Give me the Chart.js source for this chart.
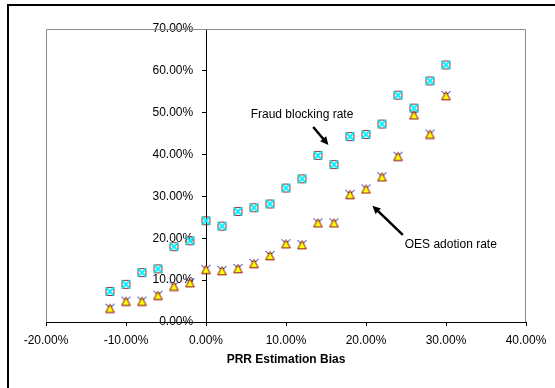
<!DOCTYPE html>
<html>
<head>
<meta charset="utf-8">
<script src="https://cdn.jsdelivr.net/npm/chart.js@4"></script>
<style>
    html, body { margin: 0; padding: 0; background: #fff; }
    #wrap { position: relative; width: 555px; height: 388px; overflow: hidden; }
    #frame { position: absolute; left: 7px; top: 4px; width: 600px; height: 450px;
             border-left: 2px solid #000; border-top: 2px solid #000; }
    canvas { position: absolute; left: 0; top: 0; }
</style>
</head>
<body>
<div id="wrap">
    <div id="frame"></div>
    <canvas id="chart" width="555" height="388"></canvas>
</div>
<script>
// PRR estimation bias (x, %) and the two rates (y, %)
const biasValues = [-12, -10, -8, -6, -4, -2, 0, 2, 4, 6, 8, 10, 12, 14, 16, 18, 20, 22, 24, 26, 28, 30];
const fraudBlockingRate = [7.3, 9.0, 11.8, 12.7, 18.0, 19.4, 24.2, 22.9, 26.4, 27.3, 28.2, 32.0,
    34.2, 39.8, 37.6, 44.3, 44.8, 47.3, 54.2, 51.1, 57.6, 61.4];
const oesAdoptionRate = [3.3, 5.0, 5.0, 6.4, 8.6, 9.4, 12.6, 12.3, 12.8, 14.0, 15.9, 18.7,
    18.5, 23.7, 23.7, 30.5, 31.8, 34.7, 39.6, 49.5, 44.9, 54.1];
const xTicks = [-20, -10, 0, 10, 20, 30, 40];
const yTicks = [0, 10, 20, 30, 40, 50, 60, 70];

// annotations: [label, textX, textY, arrowFromX, arrowFromY, arrowToX, arrowToY] in data units
const notes = [
    ['Fraud blocking rate', 12.0, 49.5, 13.4, 46.6, 15.3, 42.3],
    ['OES adotion rate', 30.6, 18.5, 24.6, 20.8, 20.8, 27.8]
];

function makeMarker(kind) {
    const c = document.createElement('canvas');
    c.width = 11; c.height = 11;
    const g = c.getContext('2d');
    if (kind === 'square') {
        g.strokeStyle = '#a8322c';
        g.lineWidth = 1;
        g.strokeRect(1.5, 1.5, 8, 8);
        g.strokeStyle = '#00f0ff';
        g.lineWidth = 2;
        g.beginPath();
        g.moveTo(1.5, 1.5); g.lineTo(9.5, 9.5);
        g.moveTo(9.5, 1.5); g.lineTo(1.5, 9.5);
        g.stroke();
    } else {
        g.strokeStyle = '#1a1a9c';
        g.lineWidth = 1;
        g.beginPath();
        g.moveTo(1, 1); g.lineTo(10, 10);
        g.moveTo(10, 1); g.lineTo(1, 10);
        g.stroke();
        g.fillStyle = '#ffff00';
        g.strokeStyle = '#8b1010';
        g.lineWidth = 1;
        g.beginPath();
        g.moveTo(5.5, 1.5); g.lineTo(9.8, 9.8); g.lineTo(1.2, 9.8); g.closePath();
        g.fill(); g.stroke();
    }
    return c;
}

const plotFrame = {
    id: 'plotFrame',
    beforeDatasetsDraw(chart) {
        const { ctx, chartArea: a } = chart;
        ctx.save();
        ctx.strokeStyle = '#8c8c8c';
        ctx.lineWidth = 1;
        ctx.beginPath();
        ctx.moveTo(a.left + 0.5, a.bottom);
        ctx.lineTo(a.left + 0.5, a.top + 0.5);
        ctx.lineTo(a.right - 0.5, a.top + 0.5);
        ctx.lineTo(a.right - 0.5, a.bottom);
        ctx.stroke();
        ctx.restore();
    }
};

const annotations = {
    id: 'annotations',
    afterDraw(chart) {
        const { ctx, scales: { x, y } } = chart;
        ctx.save();
        ctx.font = '12px "Liberation Sans", Arial, sans-serif';
        ctx.fillStyle = '#000';
        ctx.textAlign = 'center';
        ctx.textBaseline = 'middle';
        notes.forEach(n => {
            ctx.fillText(n[0], x.getPixelForValue(n[1]), y.getPixelForValue(n[2]));
            const x0 = x.getPixelForValue(n[3]), y0 = y.getPixelForValue(n[4]);
            const x1 = x.getPixelForValue(n[5]), y1 = y.getPixelForValue(n[6]);
            const ang = Math.atan2(y1 - y0, x1 - x0);
            const head = 9;
            ctx.strokeStyle = '#000';
            ctx.lineWidth = 2.5;
            ctx.beginPath();
            ctx.moveTo(x0, y0);
            ctx.lineTo(x1 - Math.cos(ang) * head * 0.8, y1 - Math.sin(ang) * head * 0.8);
            ctx.stroke();
            ctx.beginPath();
            ctx.moveTo(x1, y1);
            ctx.lineTo(x1 - head * Math.cos(ang - 0.45), y1 - head * Math.sin(ang - 0.45));
            ctx.lineTo(x1 - head * Math.cos(ang + 0.45), y1 - head * Math.sin(ang + 0.45));
            ctx.closePath();
            ctx.fill();
        });
        ctx.restore();
    }
};

const font = { family: '"Liberation Sans", Arial, sans-serif', size: 12 };

new Chart(document.getElementById('chart'), {
    type: 'scatter',
    data: {
        datasets: [
            {
                label: 'Fraud blocking rate',
                data: biasValues.map((b, i) => ({ x: b, y: fraudBlockingRate[i] })),
                pointStyle: makeMarker('square'),
                pointRadius: 5
            },
            {
                label: 'OES adotion rate',
                data: biasValues.map((b, i) => ({ x: b, y: oesAdoptionRate[i] })),
                pointStyle: makeMarker('triangle'),
                pointRadius: 5
            }
        ]
    },
    options: {
        responsive: false,
        animation: false,
        events: [],
        layout: { padding: { left: 46, right: 29, top: 29, bottom: 0 } },
        plugins: { legend: { display: false }, tooltip: { enabled: false } },
        scales: {
            x: {
                type: 'linear',
                min: -20,
                max: 40,
                afterFit(scale) { scale.height = 66; },
                afterBuildTicks(scale) { scale.ticks = xTicks.map(v => ({ value: v })); },
                border: { color: '#000', width: 1 },
                grid: { drawOnChartArea: false, drawTicks: true, tickLength: 4, color: '#000' },
                ticks: {
                    color: '#000',
                    font,
                    padding: 7,
                    maxRotation: 0,
                    callback: v => v.toFixed(2) + '%'
                },
                title: {
                    display: true,
                    text: 'PRR Estimation Bias',
                    color: '#000',
                    font: { ...font, weight: 'bold' },
                    padding: { top: 0, bottom: 21 }
                }
            },
            // the axis line and tick marks, crossing at x = 0
            y: {
                type: 'linear',
                position: { x: 0 },
                min: 0,
                max: 70,
                afterBuildTicks(scale) { scale.ticks = yTicks.map(v => ({ value: v })); },
                border: { color: '#000', width: 1 },
                grid: { drawOnChartArea: false, drawTicks: true, tickLength: 4, color: '#000' },
                ticks: { display: false }
            },
            // the tick labels, right-aligned just left of the tick marks
            yLabels: {
                type: 'linear',
                axis: 'y',
                position: { x: -1.6 },
                min: 0,
                max: 70,
                afterBuildTicks(scale) { scale.ticks = yTicks.map(v => ({ value: v })); },
                border: { display: false },
                grid: { display: false },
                ticks: {
                    color: '#000',
                    font,
                    callback: v => v.toFixed(2) + '%'
                }
            }
        }
    },
    plugins: [plotFrame, annotations]
});
</script>
</body>
</html>
